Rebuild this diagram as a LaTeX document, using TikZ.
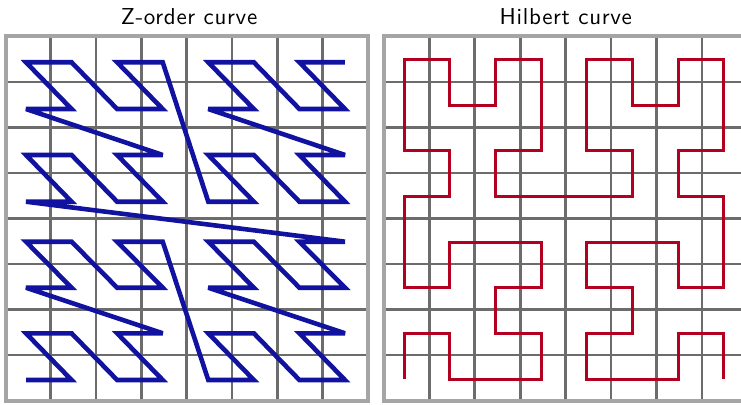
\documentclass[tikz,border=0pt]{standalone}
\usepackage{fontspec}
\newfontfamily\titlefont{lmsans10-regular.otf}[LetterSpace=3]
\definecolor{zblue}{RGB}{18,18,160}
\definecolor{hred}{RGB}{180,0,32}
\definecolor{gridin}{RGB}{108,108,108}
\definecolor{gridout}{RGB}{165,165,165}
\tikzset{
  innergrid/.style={draw=gridin, line width=2.7pt},
  outergrid/.style={draw=gridout, line width=4pt},
  zline/.style={draw=zblue, line width=4.6pt, line join=miter, miter limit=4},
  hline/.style={draw=hred, line width=3pt, line join=miter},
  titletext/.style={font=\titlefont\fontsize{23}{28}\selectfont, anchor=base, inner sep=0pt}
}
\begin{document}
\begin{tikzpicture}[x=1pt, y=-1pt]
\useasboundingbox (0,0) rectangle (741,404);
\fill[white] (0,0) rectangle (741,404);
\clip (0,0) rectangle (741,404);
% titles
\node[titletext] (t1) at (189,24.5) {Z-order curve};
\node[titletext] (t2) at (565.8,24.5) {Hilbert curve};
% left grid
\foreach \k in {1,...,7} {
  \draw[innergrid] ({5.5+45.3*\k},36.5) -- ({5.5+45.3*\k},400.5);
  \draw[innergrid] (5.5,{36.5+45.5*\k}) -- (367.9,{36.5+45.5*\k});
}
\draw[outergrid] (5.5,36.5) rectangle (367.9,400.5);
% right grid
\foreach \k in {1,...,7} {
  \draw[innergrid] ({383.85+45.45*\k},36.5) -- ({383.85+45.45*\k},400.5);
  \draw[innergrid] (383.85,{36.5+45.5*\k}) -- (747.45,{36.5+45.5*\k});
}
\draw[outergrid] (383.85,36.5) rectangle (747.45,400.5);
% Z-order curve points
\def\zrows{{380,333.3,287.7,241.7,201.7,155,109,62.3}}
\foreach \d in {0,...,63} {
  \pgfmathtruncatemacro\cx{mod(\d,2)+2*mod(floor(\d/4),2)+4*mod(floor(\d/16),2)}
  \pgfmathtruncatemacro\cy{mod(floor(\d/2),2)+2*mod(floor(\d/8),2)+4*mod(floor(\d/32),2)}
  \pgfmathsetmacro\yy{\zrows[\cy]}
  \coordinate (z\d) at ({26+45.57*\cx},\yy);
}
\draw[zline] (z0) \foreach \d in {1,...,63} { -- (z\d) };
% Hilbert curve points
\foreach \i/\j [count=\k from 0] in {
  0/0,0/1,1/1,1/0,2/0,3/0,3/1,2/1,2/2,3/2,3/3,2/3,1/3,1/2,0/2,0/3,
  0/4,1/4,1/5,0/5,0/6,0/7,1/7,1/6,2/6,2/7,3/7,3/6,3/5,2/5,2/4,3/4,
  4/4,5/4,5/5,4/5,4/6,4/7,5/7,5/6,6/6,6/7,7/7,7/6,7/5,6/5,6/4,7/4,
  7/3,7/2,6/2,6/3,5/3,4/3,4/2,5/2,5/1,4/1,4/0,5/0,6/0,6/1,7/1,7/0} {
  \coordinate (h\k) at ({404+45.71*\i},{379.3-45.71*\j});
}
\draw[hline] (h0) \foreach \k in {1,...,63} { -- (h\k) };
\end{tikzpicture}
\end{document}
